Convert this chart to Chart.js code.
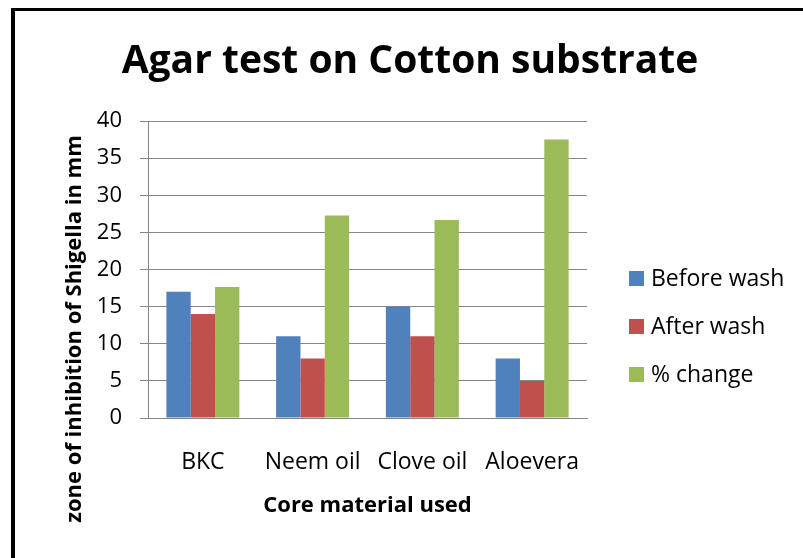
<!DOCTYPE html>
<html>
<head>
<meta charset="utf-8">
<script src="https://cdn.jsdelivr.net/npm/chart.js@4/dist/chart.umd.min.js"></script>
<style>
html,body{margin:0;padding:0;background:#fff;overflow:hidden}
#contenedor{position:relative;width:803px;height:558px}
#marco{position:absolute;left:11px;top:8px;width:820px;height:580px;border-left:4px solid #000;border-top:3px solid #000;pointer-events:none}
</style>
</head>
<body>
<div id="contenedor">
  <canvas id="grafica" width="803" height="558"></canvas>
  <div id="marco"></div>
</div>
<script>
const TITULO = 'Agar test on Cotton substrate'
const TITULO_Y = 'zone of inhibition of Shigella in mm'
const TITULO_X = 'Core material used'
const CATEGORIAS = ['BKC', 'Neem oil', 'Clove oil', 'Aloevera']
const SERIES = ['Before wash', 'After wash', '% change']
const ANTES = [17, 11, 15, 8]
const DESPUES = [14, 8, 11, 5]
const CAMBIO = [17.65, 27.27, 26.67, 37.5]
const EJE_Y = { min: 0, max: 40, paso: 5 }
const COLORES = ['#4F81BD', '#C0504D', '#9BBB59']

const FUENTE = "'Open Sans', 'Liberation Sans', sans-serif"
const GRIS = '#868686'

// titulo, titulo del eje y, y leyenda se dibujan aqui
const extras = {
  id: 'extras',
  afterDraw(chart) {
    const ctx = chart.ctx
    ctx.save()
    ctx.fillStyle = '#000'

    ctx.font = "bold 39px " + FUENTE
    ctx.textAlign = 'center'
    ctx.textBaseline = 'alphabetic'
    ctx.fillText(TITULO, 410, 73)

    ctx.save()
    ctx.translate(75, 329)
    ctx.rotate(-Math.PI / 2)
    ctx.font = "bold 22px " + FUENTE
    ctx.textBaseline = 'middle'
    ctx.fillText(TITULO_Y, 0, 0)
    ctx.restore()

    ctx.font = "23px " + FUENTE
    ctx.textAlign = 'left'
    ctx.textBaseline = 'middle'
    chart.data.datasets.forEach((ds, i) => {
      const y = 278.5 + 48 * i
      ctx.fillStyle = ds.backgroundColor
      ctx.fillRect(629, y - 7.5, 15, 15)
      ctx.fillStyle = '#000'
      ctx.fillText(ds.label, 651, y + 1)
    })
    ctx.restore()
  }
}

const valores = [ANTES, DESPUES, CAMBIO]

new Chart(document.getElementById('grafica').getContext('2d'), {
  type: 'bar',
  data: {
    labels: CATEGORIAS,
    datasets: SERIES.map((nombre, i) => ({
      label: nombre,
      data: valores[i],
      backgroundColor: COLORES[i],
      borderWidth: 0,
      categoryPercentage: 0.665,
      barPercentage: 1
    }))
  },
  options: {
    responsive: false,
    devicePixelRatio: 1,
    animation: false,
    layout: { padding: { left: 88, right: 216, top: 121, bottom: 39 } },
    plugins: {
      legend: { display: false },
      title: { display: false },
      tooltip: { enabled: false }
    },
    scales: {
      x: {
        afterFit(escala) { escala.height = 101 },
        grid: { display: false },
        border: { display: true, color: GRIS, width: 1 },
        ticks: { color: '#000', font: { family: FUENTE, size: 23 }, padding: 23, maxRotation: 0 },
        title: {
          display: true,
          text: TITULO_X,
          color: '#000',
          font: { family: FUENTE, size: 22, weight: 'bold' },
          padding: { top: 0, bottom: 0 }
        }
      },
      y: {
        min: EJE_Y.min,
        max: EJE_Y.max,
        afterFit(escala) { escala.width = 60 },
        grid: { color: GRIS, lineWidth: 1, drawTicks: true, tickLength: 8, tickColor: GRIS },
        border: { display: true, color: GRIS, width: 1 },
        ticks: { stepSize: EJE_Y.paso, color: '#000', font: { family: FUENTE, size: 22 }, padding: 18 }
      }
    }
  },
  plugins: [extras]
})
</script>
</body>
</html>
